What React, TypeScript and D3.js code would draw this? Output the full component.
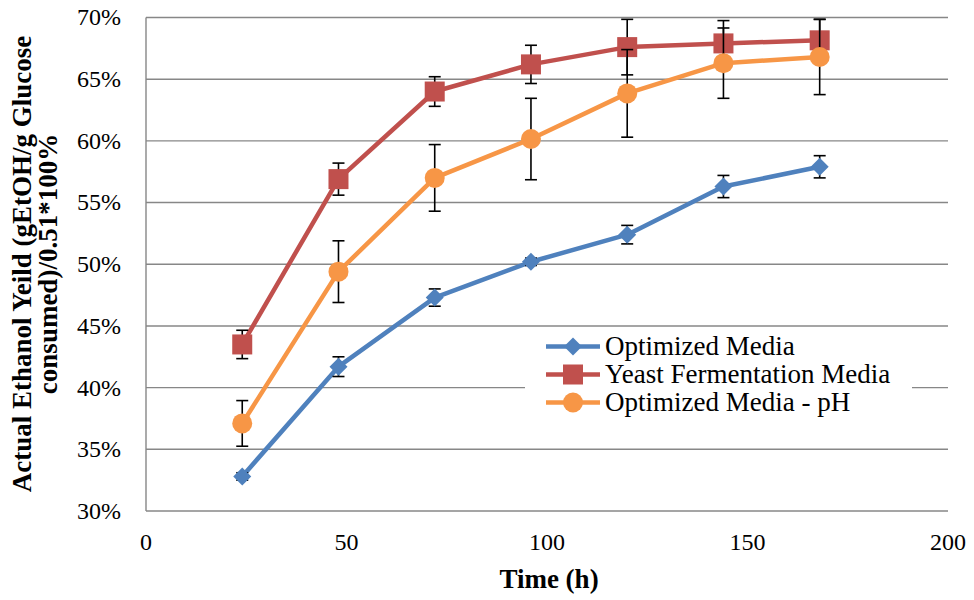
import { useMemo } from 'react';
import * as d3 from 'd3';

const hours = [24, 48, 72, 96, 120, 144, 168];

const optimized = [32.8, 41.7, 47.3, 50.2, 52.4, 56.3, 57.9];
const optimizedErr = [0.3, 0.8, 0.7, 0.3, 0.75, 0.9, 0.9];

const yeast = [43.5, 56.9, 64.0, 66.2, 67.6, 67.9, 68.15];
const yeastErr = [1.15, 1.3, 1.2, 1.55, 2.25, 1.85, 1.7];

const optimizedPh = [37.1, 49.4, 57.0, 60.15, 63.85, 66.3, 66.8];
const optimizedPhErr = [1.85, 2.5, 2.7, 3.3, 3.55, 2.85, 3.05];

const xTicks = [0, 50, 100, 150, 200];
const yTicks = [30, 35, 40, 45, 50, 55, 60, 65, 70];

const series = [
  { name: 'Optimized Media', color: '#4F81BD', marker: 'diamond', values: optimized, errors: optimizedErr },
  { name: 'Yeast Fermentation Media', color: '#C0504D', marker: 'square', values: yeast, errors: yeastErr },
  { name: 'Optimized Media - pH', color: '#F79646', marker: 'circle', values: optimizedPh, errors: optimizedPhErr }
];

const FONT = '"Liberation Serif", "Times New Roman", serif';

function Marker({ type, x, y, color }: { type: string; x: number; y: number; color: string }) {
  if (type === 'diamond') {
    const s = 9;
    return <path d={`M${x},${y - s}L${x + s},${y}L${x},${y + s}L${x - s},${y}Z`} fill={color} />;
  }
  if (type === 'square') {
    return <rect x={x - 10} y={y - 10} width={20} height={20} fill={color} />;
  }
  return <circle cx={x} cy={y} r={10} fill={color} />;
}

export default function App() {
  const width = 974;
  const height = 600;
  const x = useMemo(() => d3.scaleLinear().domain([0, 200]).range([146, 948]), []);
  const y = useMemo(() => d3.scaleLinear().domain([30, 70]).range([511, 17.5]), []);

  const line = d3
    .line<number>()
    .x((_, i) => x(hours[i]))
    .y((v) => y(v));

  const legendRows = [346.5, 374.5, 402.5];

  return (
    <svg width={width} height={height} style={{ position: 'absolute', left: 0, top: 0, background: '#fff' }}>
      {/* gridlines */}
      {yTicks.map((t) => (
        <line key={t} x1={x(0)} x2={x(200)} y1={y(t)} y2={y(t)} stroke="#878787" strokeWidth={1.4} />
      ))}
      <line x1={x(0)} x2={x(0)} y1={y(70)} y2={y(30)} stroke="#878787" strokeWidth={1.4} />

      {/* y tick labels */}
      {yTicks.map((t) => (
        <text key={t} x={121} y={y(t)} dy="0.33em" textAnchor="end" fontFamily={FONT} fontSize={24} fill="#000">
          {d3.format('.0%')(t / 100)}
        </text>
      ))}
      {/* x tick labels */}
      {xTicks.map((t) => (
        <text key={t} x={x(t)} y={550} textAnchor="middle" fontFamily={FONT} fontSize={24} fill="#000">
          {t}
        </text>
      ))}

      {/* axis titles */}
      <text x={x(100) + 2} y={588} textAnchor="middle" fontFamily={FONT} fontSize={27} fontWeight="bold">
        Time (h)
      </text>
      <g transform="translate(0,264) rotate(-90)">
        <text x={0} y={31} textAnchor="middle" fontFamily={FONT} fontSize={27} fontWeight="bold">
          Actual Ethanol Yeild (gEtOH/g Glucose
        </text>
        <text x={0} y={57} textAnchor="middle" fontFamily={FONT} fontSize={27} fontWeight="bold">
          consumed)/0.51*100%
        </text>
      </g>

      {/* series */}
      {series.map((s) => (
        <g key={s.name}>
          <path d={line(s.values) || ''} fill="none" stroke={s.color} strokeWidth={4.5} strokeLinejoin="round" />
          {s.values.map((v, i) => {
            const cx = x(hours[i]);
            const top = y(v + s.errors[i]);
            const bottom = y(v - s.errors[i]);
            return (
              <g key={i} stroke="#000" strokeWidth={1.6}>
                <line x1={cx} x2={cx} y1={top} y2={bottom} />
                <line x1={cx - 6} x2={cx + 6} y1={top} y2={top} />
                <line x1={cx - 6} x2={cx + 6} y1={bottom} y2={bottom} />
              </g>
            );
          })}
          {s.values.map((v, i) => (
            <Marker key={i} type={s.marker} x={x(hours[i])} y={y(v)} color={s.color} />
          ))}
        </g>
      ))}

      {/* legend */}
      <rect x={525} y={332} width={387} height={82} fill="#fff" />
      {series.map((s, i) => (
        <g key={s.name}>
          <line x1={546} x2={600} y1={legendRows[i]} y2={legendRows[i]} stroke={s.color} strokeWidth={4.5} />
          <Marker type={s.marker} x={573} y={legendRows[i]} color={s.color} />
          <text x={605} y={legendRows[i]} dy="0.33em" fontFamily={FONT} fontSize={27} fill="#000">
            {s.name}
          </text>
        </g>
      ))}
    </svg>
  );
}
